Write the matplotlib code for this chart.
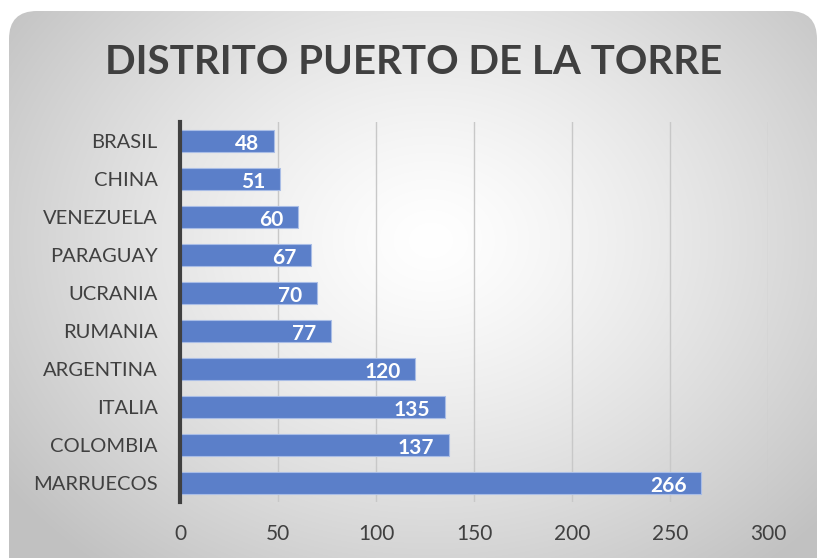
import matplotlib.pyplot as plt
import numpy as np
from matplotlib.patches import FancyBboxPatch

countries = ['MARRUECOS', 'COLOMBIA', 'ITALIA', 'ARGENTINA', 'RUMANIA',
             'UCRANIA', 'PARAGUAY', 'VENEZUELA', 'CHINA', 'BRASIL']
values = [266, 137, 135, 120, 77, 70, 67, 60, 51, 48]
x_ticks = [0, 50, 100, 150, 200, 250, 300]
title = 'DISTRITO PUERTO DE LA TORRE'

plt.rcParams['font.family'] = ['Lato', 'DejaVu Sans']

W, H = 822, 558
fig = plt.figure(figsize=(W / 100, H / 100), dpi=100)
fig.patch.set_facecolor('white')

# background with radial gradient, clipped to a rounded box
bg = fig.add_axes([0, 0, 1, 1])
bg.set_xlim(0, W)
bg.set_ylim(H, 0)
bg.axis('off')
yy, xx = np.mgrid[0:H, 0:W]
d = np.sqrt(((xx - 430) / 520.0) ** 2 + ((yy - 240) / 420.0) ** 2)
shade = 1.0 - 0.24 * np.clip(d, 0, 1) ** 1.3
img = np.dstack([shade, shade, shade])
box = FancyBboxPatch((9, 11), 808, 580, boxstyle='round,pad=0,rounding_size=28',
                     facecolor='none', edgecolor='none', transform=bg.transData)
bg.add_patch(box)
im = bg.imshow(img, extent=(0, W, H, 0), interpolation='bilinear')
im.set_clip_path(box)

ax = fig.add_axes([180 / W, 1 - 502 / H, 588 / W, 380 / H])
ax.patch.set_alpha(0)
y = np.arange(len(countries))
bars = ax.barh(y, values, height=0.58, color='#5b7fc9', edgecolor='#a9bde6', linewidth=0.8, zorder=3)
for b, v in zip(bars, values):
    ax.text(v - 7.5, b.get_y() + b.get_height() / 2 - 0.07, str(v), ha='right', va='center',
            color='white', fontsize=15, fontweight='bold', zorder=4)

ax.set_xlim(0, 300)
ax.set_ylim(-0.5, len(countries) - 0.5)
ax.set_yticks(y)
ax.set_yticklabels(countries, fontsize=14.5, color='#404040')
ax.set_xticks(x_ticks)
ax.set_xticklabels([str(t) for t in x_ticks], fontsize=15, color='#404040')
ax.tick_params(axis='both', length=0)
ax.tick_params(axis='x', pad=16)
ax.tick_params(axis='y', pad=16)
ax.grid(axis='x', color='#c8c8c8', linewidth=1, zorder=0)
for s in ['top', 'right', 'bottom']:
    ax.spines[s].set_visible(False)
ax.spines['left'].set_color('#404040')
ax.spines['left'].set_linewidth(3)
ax.spines['left'].set_zorder(5)

fig.text(414 / W, 1 - 62 / H, title, ha='center', va='center', fontsize=29,
         fontweight='bold', color='#404040')

fig.savefig('out.png', dpi=100)
